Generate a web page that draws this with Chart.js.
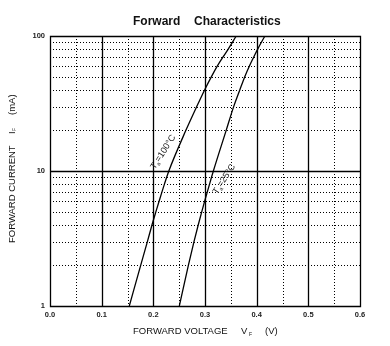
<!DOCTYPE html>
<html>
<head>
<meta charset="utf-8">
<script src="https://cdn.jsdelivr.net/npm/chart.js@4/dist/chart.umd.min.js"></script>
<style>
  html, body { margin: 0; padding: 0; background: #fff; }
  #wrap { width: 390px; height: 346px; position: relative; }
</style>
</head>
<body>
<div id="wrap"><canvas id="chFwd"></canvas></div>
<script>
/* Forward characteristics: IF (mA, log) vs VF (V) at two ambient temperatures */

const currentMA = [1, 2, 3, 4, 5, 6, 8, 10, 20, 30, 40, 50, 60, 70, 80, 100];
const vfTa100 = [0.1535, 0.1755, 0.1885, 0.1975, 0.205, 0.2113, 0.2215, 0.230, 0.263, 0.284, 0.2995, 0.3125, 0.324, 0.335, 0.345, 0.3605];
const vfTa25  = [0.2503, 0.2678, 0.2787, 0.287, 0.2938, 0.2995, 0.3088, 0.3162, 0.341, 0.3555, 0.3675, 0.377, 0.386, 0.3945, 0.402, 0.416];

const xTicks = [0, 0.1, 0.2, 0.3, 0.4, 0.5, 0.6];
const yTicks = [1, 10, 100];
const yMinor = [2, 3, 4, 5, 6, 7, 8, 9, 20, 30, 40, 50, 60, 70, 80, 90];
const xMinor = [0.05, 0.15, 0.25, 0.35, 0.45, 0.55];

const curveLabels = [
  { temp: '100', x: 0.219, y: 13.8 },
  { temp: '25',  x: 0.337, y: 8.7 }
];

const FONT = '"Liberation Sans", Arial, sans-serif';

function pts(xs) { return xs.map((v, i) => ({ x: v, y: currentMA[i] })); }

// grid: solid majors, dotted minors, plus the frame
const gridPlugin = {
  id: 'fwdGrid',
  beforeDatasetsDraw(chart) {
    const { ctx, chartArea: a, scales: { x, y } } = chart;
    ctx.save();
    ctx.strokeStyle = '#000';
    ctx.lineWidth = 1;
    ctx.setLineDash([1, 2]);
    ctx.beginPath();
    xMinor.forEach(v => { const px = Math.round(x.getPixelForValue(v)) + 0.5; ctx.moveTo(px, a.top); ctx.lineTo(px, a.bottom); });
    yMinor.forEach(v => { const py = Math.round(y.getPixelForValue(v)) + 0.5; ctx.moveTo(a.left, py); ctx.lineTo(a.right, py); });
    ctx.stroke();
    ctx.setLineDash([]);
    ctx.lineWidth = 1.3;
    ctx.beginPath();
    xTicks.slice(1, -1).forEach(v => { const px = Math.round(x.getPixelForValue(v)) + 0.5; ctx.moveTo(px, a.top); ctx.lineTo(px, a.bottom); });
    const p10 = Math.round(y.getPixelForValue(10)) + 0.5;
    ctx.moveTo(a.left, p10); ctx.lineTo(a.right, p10);
    ctx.rect(Math.round(a.left) + 0.5, Math.round(a.top) + 0.5, Math.round(a.right - a.left), Math.round(a.bottom - a.top));
    ctx.stroke();
    ctx.restore();
  }
};

// title, axis titles with subscripts, and rotated curve labels
const textPlugin = {
  id: 'fwdText',
  afterDraw(chart) {
    const { ctx, scales: { x, y } } = chart;
    ctx.save();
    ctx.fillStyle = '#111';
    ctx.textBaseline = 'middle';

    ctx.font = 'bold 12px ' + FONT;
    ctx.textAlign = 'left';
    ctx.fillText('Forward', 133, 22);
    ctx.fillText('Characteristics', 194, 22);

    ctx.font = '9.5px ' + FONT;
    ctx.fillText('FORWARD VOLTAGE', 133, 331);
    ctx.fillText('V', 241, 331);
    ctx.fillText('(V)', 265, 331);
    ctx.font = '5px ' + FONT;
    ctx.fillText('F', 249, 335);

    ctx.translate(12, 169);
    ctx.rotate(-Math.PI / 2);
    ctx.textAlign = 'left';
    ctx.font = '9.5px ' + FONT;
    ctx.fillText('FORWARD CURRENT', -74, 0);
    ctx.fillText('I', 35, 0);
    ctx.fillText('(mA)', 54, 0);
    ctx.font = '5px ' + FONT;
    ctx.fillText('F', 38, 3);
    ctx.restore();

    curveLabels.forEach(l => {
      const px = x.getPixelForValue(l.x), py = y.getPixelForValue(l.y);
      ctx.save();
      ctx.translate(px, py);
      ctx.rotate(-57 * Math.PI / 180);
      ctx.fillStyle = '#222';
      ctx.textBaseline = 'middle';
      ctx.textAlign = 'left';
      ctx.font = '9px ' + FONT;
      const rest = '=' + l.temp + '°C';
      const wT = ctx.measureText('T').width;
      ctx.font = '5.5px ' + FONT;
      const wA = ctx.measureText('a').width;
      ctx.font = '9px ' + FONT;
      const total = wT + wA + ctx.measureText(rest).width;
      let cx = -total / 2;
      ctx.fillText('T', cx, 0); cx += wT;
      ctx.font = '5.5px ' + FONT;
      ctx.fillText('a', cx, 3); cx += wA;
      ctx.font = '9px ' + FONT;
      ctx.fillText(rest, cx, 0);
      ctx.restore();
    });
  }
};

const lineDs = (label, xs) => ({
  label, data: pts(xs), showLine: true, borderColor: '#000', borderWidth: 1.3,
  pointRadius: 0, tension: 0, cubicInterpolationMode: 'monotone', fill: false
});

new Chart(document.getElementById('chFwd'), {
  type: 'scatter',
  data: { datasets: [lineDs('Ta=100°C', vfTa100), lineDs('Ta=25°C', vfTa25)] },
  options: {
    responsive: true, maintainAspectRatio: false, animation: false,
    layout: { padding: { top: 36, right: 30, left: 0, bottom: 0 } },
    plugins: { legend: { display: false }, tooltip: { enabled: false }, title: { display: false } },
    scales: {
      x: {
        type: 'linear', min: 0, max: 0.6,
        afterBuildTicks: s => { s.ticks = xTicks.map(v => ({ value: v })); },
        afterFit: s => { s.height = 40; },
        ticks: { color: '#222', padding: 4, maxRotation: 0, font: { family: FONT, size: 7.5, weight: 'bold' }, callback: v => Number(v).toFixed(1) },
        grid: { display: false, drawTicks: false },
        border: { display: false }
      },
      y: {
        type: 'logarithmic', min: 1, max: 100,
        afterBuildTicks: s => { s.ticks = yTicks.map(v => ({ value: v })); },
        afterFit: s => { s.width = 50; },
        ticks: { color: '#222', padding: 5, font: { family: FONT, size: 7.5, weight: 'bold' }, callback: v => String(v) },
        grid: { display: false, drawTicks: false },
        border: { display: false }
      }
    }
  },
  plugins: [gridPlugin, textPlugin]
});
</script>
</body>
</html>
